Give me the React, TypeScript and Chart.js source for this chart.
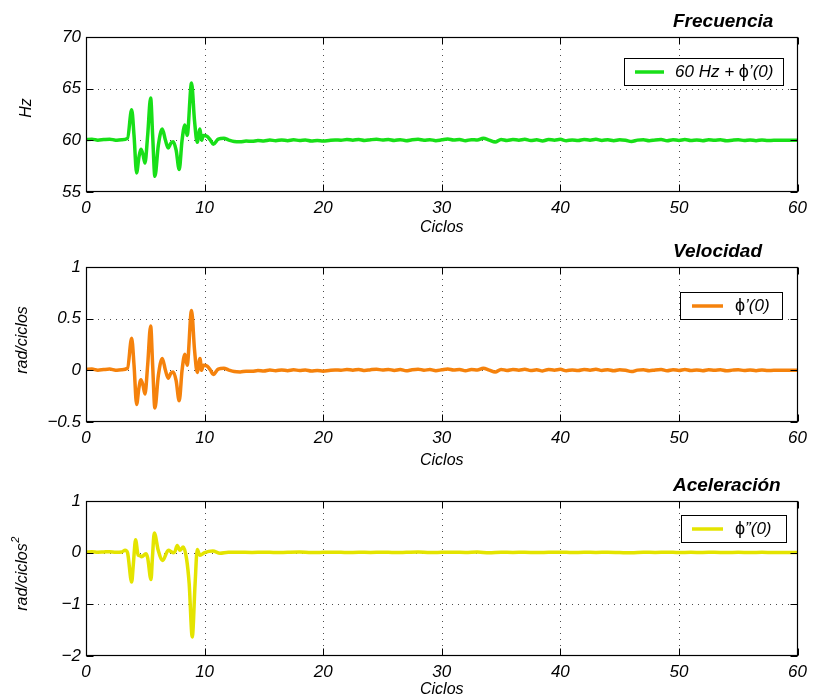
import { useEffect, useRef } from 'react';
import { Chart, registerables } from 'chart.js';

Chart.register(...registerables);

const FONT = '"Liberation Sans", Arial, Helvetica, sans-serif';

// φ'(0) in rad/ciclo, sampled densely through the disturbance and every half cycle afterwards
const VEL_CYCLES = [
  0, 0.5, 1, 1.5, 2, 2.5, 3, 3.5,
  3.85, 4.05, 4.27, 4.45, 4.63, 4.8, 4.97, 5.2, 5.45, 5.62, 5.81, 6.1,
  6.43, 6.7, 6.93, 7.15, 7.36, 7.6, 7.86, 8.1, 8.34, 8.53, 8.9, 9.15,
  9.38, 9.61, 9.75, 9.89, 10.22, 10.5, 10.73, 11.15, 11.63, 12,
  12.5, 13, 13.5, 14, 14.5, 15, 15.5, 16, 16.5, 17,
  17.5, 18, 18.5, 19, 19.5, 20, 20.5, 21, 21.5, 22,
  22.5, 23, 23.5, 24, 24.5, 25, 25.5, 26, 26.5, 27,
  27.5, 28, 28.5, 29, 29.5, 30, 30.5, 31, 31.5, 32,
  32.5, 33, 33.5, 34, 34.5, 35, 35.5, 36, 36.5, 37,
  37.5, 38, 38.5, 39, 39.5, 40, 40.5, 41, 41.5, 42,
  42.5, 43, 43.5, 44, 44.5, 45, 45.5, 46, 46.5, 47,
  47.5, 48, 48.5, 49, 49.5, 50, 50.5, 51, 51.5, 52,
  52.5, 53, 53.5, 54, 54.5, 55, 55.5, 56, 56.5, 57,
  57.5, 58, 59, 60,
];
const VEL = [
  0.008, 0.012, 0.002, 0.008, 0.012, 0.002, 0.006, 0.02,
  0.31, 0.05, -0.33, -0.18, -0.09, -0.14, -0.23, 0.05, 0.43, 0.05, -0.365, -0.05,
  0.115, 0.0, -0.077, -0.03, -0.015, -0.1, -0.295, 0.0, 0.155, 0.05, 0.58, 0.2,
  -0.02, 0.115, 0.0, 0.05, 0.04, 0.0, -0.04, 0.012, 0.02, 0.005,
  -0.012, -0.015, -0.008, -0.01, -0.002, -0.006, 0.003, -0.004, 0.004, -0.003,
  0.005, -0.001, 0.004, -0.006, -0.002, -0.008, -0.001, 0.004, 0.001, 0.008,
  0.002, 0.009, -0.002, 0.006, 0.011, 0.003, 0.009, -0.001, 0.007, -0.004,
  0.006, 0.011, 0.002, 0.007, -0.003, 0.005, 0.013, 0.003, 0.009, -0.004,
  0.007, 0.003, 0.02, 0.002, -0.017, 0.009, -0.001, 0.008, 0.002, 0.01,
  -0.002, 0.005, -0.006, 0.008, 0.002, 0.01, -0.004, 0.004, -0.002, 0.008,
  0.002, 0.01, -0.001, 0.006, -0.003, 0.006, 0.0, -0.012, 0.002, 0.006,
  -0.004, 0.004, 0.008, -0.004, 0.006, -0.001, 0.008, -0.002, 0.004, -0.004,
  0.006, 0.002, 0.006, -0.004, 0.002, 0.006, -0.002, 0.004, -0.004, 0.004,
  -0.001, 0.0, 0.0, 0.0,
];

// φ''(0) in rad/ciclo²
const ACC_CYCLES = [
  0, 0.5, 1, 1.5, 2, 2.5, 3, 3.3, 3.5,
  3.85, 4.0, 4.18, 4.4, 4.55, 4.69, 5.05, 5.2, 5.48, 5.6, 5.76,
  6.09, 6.46, 6.94, 7.35, 7.5, 7.69, 7.92, 8.2, 8.48, 8.7, 8.96, 9.2,
  9.38, 9.61, 10, 10.7, 11.3, 12,
  13, 14, 15, 16, 17, 18, 19, 20, 21, 22,
  23, 24, 25, 26, 27, 28, 29, 30, 31, 32,
  33, 34, 35, 36, 37, 38, 39, 40, 41, 42,
  43, 44, 45, 46, 47, 48, 49, 50, 51, 52,
  53, 54, 55, 56, 57, 58, 59, 60,
];
const ACC = [
  0.01, 0.02, 0.01, 0.015, 0.02, 0.01, 0.015, 0.045, 0.0,
  -0.57, -0.2, 0.25, -0.05, -0.06, -0.08, -0.02, -0.1, -0.52, -0.1, 0.38,
  0.045, -0.15, 0.045, 0.0, 0.02, 0.14, 0.045, 0.11, -0.12, -0.6, -1.63, -0.6,
  0.06, -0.05, 0.0, 0.03, -0.01, 0.01,
  0.008, 0.004, 0.01, 0.002, 0.008, 0.012, 0.003, 0.006, 0.01, 0.002,
  0.008, 0.004, 0.01, 0.003, 0.007, 0.012, 0.002, 0.006, 0.009, 0.003,
  0.014, -0.004, 0.01, 0.004, 0.008, 0.002, 0.007, 0.01, 0.003, 0.008,
  0.004, 0.009, 0.002, -0.004, 0.008, 0.005, 0.01, 0.003, 0.007, 0.004,
  0.008, 0.002, 0.006, 0.004, 0.006, 0.005, 0.005, 0.005,
];

// Frequency = 60 Hz plus φ'(0) converted from rad/ciclo to Hz (60 ciclos per second)
const NOMINAL_HZ = 60;
const FREQ = VEL.map((v) => NOMINAL_HZ + (v * NOMINAL_HZ) / (2 * Math.PI));

const X_MIN = 0;
const X_MAX = 60;
const X_STEP = 10;

type Part = { t: string; upright?: boolean };

type Panel = {
  top: number;
  padTop: number;
  xAxisH: number;
  yMin: number;
  yMax: number;
  yStep: number;
  cycles: number[];
  values: number[];
  color: string;
  title: string;
  titleBaseline: number;
  yLabel: string;
  ySup?: string;
  yLabelX: number;
  yLabelY: number;
  xLabelY: number;
  legendBox: [number, number, number, number];
  legendLine: [number, number, number];
  legendTextX: number;
  legendParts: Part[];
};

const PANELS: Panel[] = [
  {
    top: 0, padTop: 37, xAxisH: 41,
    yMin: 55, yMax: 70, yStep: 5,
    cycles: VEL_CYCLES, values: FREQ, color: '#18df18',
    title: 'Frecuencia', titleBaseline: 26.5,
    yLabel: 'Hz', yLabelX: 27, yLabelY: 108, xLabelY: 228,
    legendBox: [624, 58, 784, 86], legendLine: [635, 664, 72], legendTextX: 675,
    legendParts: [{ t: '60 Hz + ' }, { t: 'ϕ', upright: true }, { t: '’(0)' }],
  },
  {
    top: 233, padTop: 34, xAxisH: 44,
    yMin: -0.5, yMax: 1, yStep: 0.5,
    cycles: VEL_CYCLES, values: VEL, color: '#f5820c',
    title: 'Velocidad', titleBaseline: 256.5,
    yLabel: 'rad/ciclos', yLabelX: 23, yLabelY: 340, xLabelY: 461,
    legendBox: [680, 292, 783, 320], legendLine: [692, 723, 306], legendTextX: 735,
    legendParts: [{ t: 'ϕ', upright: true }, { t: '’(0)' }],
  },
  {
    top: 466, padTop: 35, xAxisH: 43,
    yMin: -2, yMax: 1, yStep: 1,
    cycles: ACC_CYCLES, values: ACC, color: '#e4e400',
    title: 'Aceleración', titleBaseline: 490.5,
    yLabel: 'rad/ciclos', ySup: '2', yLabelX: 23, yLabelY: 574, xLabelY: 690,
    legendBox: [681, 515, 787, 543], legendLine: [692, 723, 529], legendTextX: 735,
    legendParts: [{ t: 'ϕ', upright: true }, { t: '”(0)' }],
  },
];

const CANVAS_W = 813;
const CANVAS_H = 233;

function tickText(v: number | string) {
  return String(v).replace('-', '\u2212');
}

function decorPlugin(p: Panel) {
  const oy = p.top;
  return {
    id: 'panelDecor',
    beforeDatasetsDraw(chart: any) {
      const { ctx, chartArea: a, scales } = chart;
      const xs = scales.x;
      const ys = scales.y;
      ctx.save();
      ctx.strokeStyle = 'rgba(0,0,0,0.7)';
      ctx.lineWidth = 1;
      ctx.setLineDash([1, 5]);
      xs.ticks.forEach((t: any) => {
        if (t.value <= X_MIN || t.value >= X_MAX) return;
        const px = Math.round(xs.getPixelForValue(t.value)) + 0.5;
        ctx.beginPath();
        ctx.moveTo(px, a.top);
        ctx.lineTo(px, a.bottom);
        ctx.stroke();
      });
      ys.ticks.forEach((t: any) => {
        if (t.value <= p.yMin || t.value >= p.yMax) return;
        const py = Math.round(ys.getPixelForValue(t.value)) + 0.5;
        ctx.beginPath();
        ctx.moveTo(a.left, py);
        ctx.lineTo(a.right, py);
        ctx.stroke();
      });
      ctx.restore();
    },
    afterDatasetsDraw(chart: any) {
      const { ctx, chartArea: a, scales } = chart;
      const xs = scales.x;
      const ys = scales.y;
      const L = Math.round(a.left) + 0.5;
      const R = Math.round(a.right) - 0.5;
      const T = Math.round(a.top) + 0.5;
      const B = Math.round(a.bottom) - 0.5;
      ctx.save();
      ctx.strokeStyle = '#000';
      ctx.lineWidth = 1.2;
      ctx.setLineDash([]);
      ctx.strokeRect(L, T, R - L, B - T);
      const tl = 7;
      ctx.lineWidth = 1;
      ctx.beginPath();
      xs.ticks.forEach((t: any) => {
        const px = Math.round(xs.getPixelForValue(t.value)) + 0.5;
        ctx.moveTo(px, B);
        ctx.lineTo(px, B - tl);
        ctx.moveTo(px, T);
        ctx.lineTo(px, T + tl);
      });
      ys.ticks.forEach((t: any) => {
        const py = Math.round(ys.getPixelForValue(t.value)) + 0.5;
        ctx.moveTo(L, py);
        ctx.lineTo(L + tl, py);
        ctx.moveTo(R, py);
        ctx.lineTo(R - tl, py);
      });
      ctx.stroke();
      ctx.restore();
    },
    afterDraw(chart: any) {
      const { ctx, chartArea: a } = chart;
      ctx.save();
      ctx.fillStyle = '#000';

      // panel title
      ctx.font = `italic bold 19px ${FONT}`;
      ctx.textAlign = 'left';
      ctx.textBaseline = 'alphabetic';
      ctx.fillText(p.title, 673, p.titleBaseline - oy);

      // x axis label
      ctx.font = `italic 16px ${FONT}`;
      ctx.textAlign = 'center';
      ctx.textBaseline = 'middle';
      ctx.fillText('Ciclos', (a.left + a.right) / 2, p.xLabelY - oy);

      // y axis label (rotated)
      ctx.save();
      ctx.translate(p.yLabelX, p.yLabelY - oy);
      ctx.rotate(-Math.PI / 2);
      ctx.font = `italic 16px ${FONT}`;
      const mainW = ctx.measureText(p.yLabel).width;
      let supW = 0;
      if (p.ySup) {
        ctx.font = `italic 11px ${FONT}`;
        supW = ctx.measureText(p.ySup).width;
      }
      const startX = -(mainW + supW) / 2;
      ctx.font = `italic 16px ${FONT}`;
      ctx.textAlign = 'left';
      ctx.textBaseline = 'middle';
      ctx.fillText(p.yLabel, startX, 0);
      if (p.ySup) {
        ctx.font = `italic 11px ${FONT}`;
        ctx.fillText(p.ySup, startX + mainW + 0.5, -7);
      }
      ctx.restore();

      // legend
      const [bx1, by1, bx2, by2] = p.legendBox;
      ctx.fillStyle = '#fff';
      ctx.fillRect(bx1, by1 - oy, bx2 - bx1, by2 - by1);
      ctx.strokeStyle = '#000';
      ctx.lineWidth = 1;
      ctx.strokeRect(bx1 + 0.5, by1 - oy + 0.5, bx2 - bx1 - 1, by2 - by1 - 1);
      const [lx1, lx2, ly] = p.legendLine;
      ctx.strokeStyle = p.color;
      ctx.lineWidth = 3.5;
      ctx.beginPath();
      ctx.moveTo(lx1, ly - oy);
      ctx.lineTo(lx2, ly - oy);
      ctx.stroke();
      ctx.fillStyle = '#000';
      ctx.textAlign = 'left';
      ctx.textBaseline = 'middle';
      let tx = p.legendTextX;
      p.legendParts.forEach((part) => {
        ctx.font = part.upright ? `18px ${FONT}` : `italic 17px ${FONT}`;
        ctx.fillText(part.t, tx, ly - oy);
        tx += ctx.measureText(part.t).width;
      });
      ctx.restore();
    },
  };
}

function buildChart(canvas: HTMLCanvasElement, p: Panel) {
  const tickFont = { family: FONT, size: 17, style: 'italic' as const };
  return new Chart(canvas, {
    type: 'line',
    data: {
      datasets: [
        {
          data: p.cycles.map((x, i) => ({ x, y: p.values[i] })),
          borderColor: p.color,
          borderWidth: 3.5,
          pointRadius: 0,
          fill: false,
          cubicInterpolationMode: 'monotone',
          borderCapStyle: 'round',
          borderJoinStyle: 'round',
        },
      ],
    },
    options: {
      animation: false,
      responsive: false,
      devicePixelRatio: 1,
      layout: { padding: { left: 0, right: 14, top: p.padTop, bottom: 0 } },
      plugins: {
        legend: { display: false },
        tooltip: { enabled: false },
        title: { display: false },
      },
      scales: {
        x: {
          type: 'linear',
          min: X_MIN,
          max: X_MAX,
          ticks: {
            stepSize: X_STEP,
            font: tickFont,
            color: '#000',
            padding: 6,
            maxRotation: 0,
            callback: (v: any) => tickText(v),
          },
          grid: { display: false, drawTicks: false },
          border: { display: false },
          afterFit: (s: any) => {
            s.height = p.xAxisH;
          },
        },
        y: {
          type: 'linear',
          min: p.yMin,
          max: p.yMax,
          ticks: {
            stepSize: p.yStep,
            font: tickFont,
            color: '#000',
            padding: 5,
            callback: (v: any) => tickText(v),
          },
          grid: { display: false, drawTicks: false },
          border: { display: false },
          afterFit: (s: any) => {
            s.width = 86;
          },
        },
      },
    } as any,
    plugins: [decorPlugin(p)],
  });
}

export default function App() {
  const refs = useRef<(HTMLCanvasElement | null)[]>([]);

  useEffect(() => {
    const charts = PANELS.map((p, i) => buildChart(refs.current[i] as HTMLCanvasElement, p));
    return () => charts.forEach((c) => c.destroy());
  }, []);

  return (
    <div
      style={{
        position: 'absolute',
        left: 0,
        top: 0,
        width: CANVAS_W,
        height: 699,
        background: '#fff',
        overflow: 'hidden',
      }}
    >
      {PANELS.map((p, i) => (
        <canvas
          key={i}
          ref={(el) => {
            refs.current[i] = el;
          }}
          width={CANVAS_W}
          height={CANVAS_H}
          style={{ position: 'absolute', left: 0, top: p.top, width: CANVAS_W, height: CANVAS_H }}
        />
      ))}
    </div>
  );
}
